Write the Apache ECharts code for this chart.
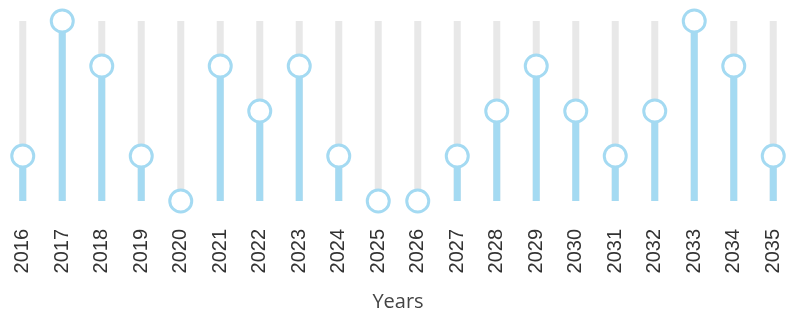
<!DOCTYPE html>
<html>
<head>
<meta charset="utf-8">
<script src="https://cdn.jsdelivr.net/npm/echarts@6/dist/echarts.min.js"></script>
<style>
  html, body { margin: 0; padding: 0; background: #fff; }
  #chart { width: 793px; height: 318px; }
</style>
</head>
<body>
<div id="chart"></div>
<script>
const years = ["2016", "2017", "2018", "2019", "2020", "2021", "2022", "2023", "2024", "2025",
  "2026", "2027", "2028", "2029", "2030", "2031", "2032", "2033", "2034", "2035"];
const values = [1, 4, 3, 1, 0, 3, 2, 3, 1, 0, 0, 1, 2, 3, 2, 1, 2, 4, 3, 1];
const yMax = 4;

const blue = "#a4daf2";

const chart = echarts.init(document.getElementById("chart"));

chart.setOption({
  animation: false,
  grid: { left: 3, right: 0, top: 21, bottom: 117, outerBoundsMode: "none", containLabel: false },
  xAxis: {
    type: "category",
    data: years,
    axisLine: { show: false },
    axisTick: { show: false },
    axisLabel: {
      rotate: 90,
      margin: 28,
      fontSize: 20,
      fontFamily: "Liberation Sans",
      color: "#333",
    },
    name: "Years",
    nameLocation: "middle",
    nameGap: 91,
    nameTextStyle: {
      fontSize: 20,
      fontFamily: "Open Sans",
      color: "#444",
    },
  },
  yAxis: {
    type: "value",
    min: 0,
    max: yMax,
    show: false,
  },
  series: [
    {
      type: "bar",
      data: values,
      barWidth: 7,
      itemStyle: { color: blue },
      showBackground: true,
      backgroundStyle: { color: "#e8e8e8" },
    },
    {
      type: "scatter",
      data: values,
      symbol: "circle",
      symbolSize: 22,
      itemStyle: {
        color: "#fff",
        borderColor: blue,
        borderWidth: 3,
        opacity: 1,
      },
      z: 5,
    },
  ],
});
</script>
</body>
</html>
